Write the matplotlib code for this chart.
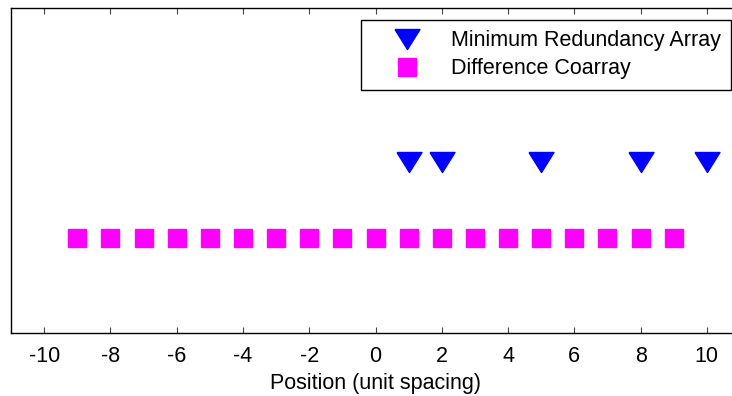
import matplotlib
matplotlib.use('Agg')
from matplotlib import pyplot as plt

plt.rcParams['font.family'] = ['Liberation Sans', 'DejaVu Sans']

# element positions of the minimum redundancy array and its difference coarray
mra_positions = [1, 2, 5, 8, 10]
coarray_positions = [-9, -8, -7, -6, -5, -4, -3, -2, -1, 0, 1, 2, 3, 4, 5, 6, 7, 8, 9]
mra_level = 1
coarray_level = 0
x_ticks = [-10, -8, -6, -4, -2, 0, 2, 4, 6, 8, 10]

W, H = 732, 396
FS = 15.5
fig = plt.figure(figsize=(W / 100, H / 100), dpi=100)
ax = fig.add_axes([11 / W, (H - 333) / H, (740 - 11) / W, (333 - 8) / H])

# slightly flattened downward triangle
tri = [(-1, 0.8), (1, 0.8), (0, -0.8), (-1, 0.8)]
ax.plot(mra_positions, [mra_level] * len(mra_positions), linestyle='none',
        marker=tri, markersize=18, color='#0000ff', label='Minimum Redundancy Array')
ax.plot(coarray_positions, [coarray_level] * len(coarray_positions), linestyle='none',
        marker='s', markersize=12.5, color='#ff00ff', label='Difference Coarray')

ax.set_xlim(-11, 11)
ax.set_ylim(-1.25, 3.02)
ax.set_xticks(x_ticks)
ax.set_xticklabels([str(t) for t in x_ticks])
ax.set_yticks([])
ax.tick_params(axis='x', direction='in', top=True, length=4, width=0.8,
               labelsize=FS, pad=9, color='#444444')
for spine in ax.spines.values():
    spine.set_linewidth(1.0)
ax.set_xlabel('Position (unit spacing)', fontsize=FS, labelpad=5)

leg = ax.legend(loc='upper right', bbox_to_anchor=(731 / W, 1 - 20 / H),
                bbox_transform=fig.transFigure, borderaxespad=0, fontsize=FS,
                fancybox=False, framealpha=1, edgecolor='black',
                handlelength=3.3, handletextpad=0.4, borderpad=0.48, labelspacing=0.33)
leg.get_frame().set_linewidth(1.0)

fig.savefig('out.png', dpi=100)
